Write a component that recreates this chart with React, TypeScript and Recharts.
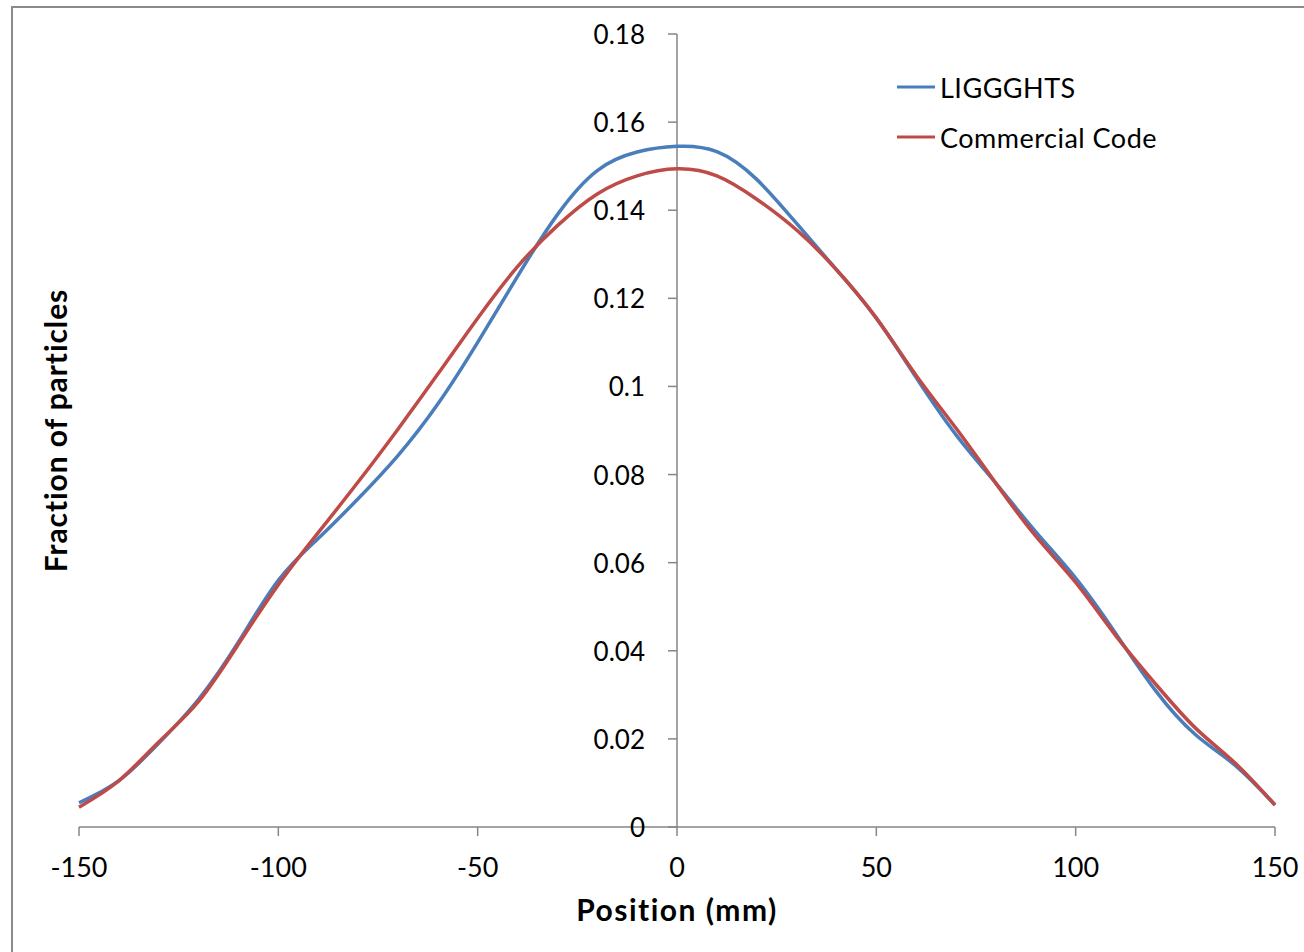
import React from "react";
import { LineChart, Line, XAxis, YAxis, ReferenceLine } from "recharts";

const POSITIONS = [-150, -140, -130, -120, -110, -100, -90, -80, -70, -60, -50, -40, -30, -20, -10, 0, 10, 20, 30, 40, 50, 60, 70, 80, 90, 100, 110, 120, 130, 140, 150];
const LIGGGHTS = [0.0055, 0.0105, 0.019, 0.029, 0.042, 0.056, 0.0655, 0.0745, 0.0843, 0.096, 0.110, 0.125, 0.139, 0.149, 0.1532, 0.1545, 0.1533, 0.147, 0.137, 0.1265, 0.1155, 0.102, 0.089, 0.078, 0.067, 0.0565, 0.044, 0.031, 0.021, 0.014, 0.005];
const COMMERCIAL = [0.0045, 0.0105, 0.0193, 0.0285, 0.0415, 0.055, 0.0668, 0.0783, 0.0903, 0.1028, 0.1155, 0.1272, 0.1365, 0.1437, 0.1478, 0.1494, 0.1478, 0.1425, 0.1355, 0.1265, 0.1155, 0.1025, 0.0905, 0.078, 0.066, 0.0555, 0.0435, 0.0325, 0.0225, 0.0145, 0.005];
const X_TICKS = [-150, -100, -50, 0, 50, 100, 150];
const Y_TICKS = [0, 0.02, 0.04, 0.06, 0.08, 0.1, 0.12, 0.14, 0.16, 0.18];
const SERIES_NAMES = ["LIGGGHTS", "Commercial Code"];

const data = POSITIONS.map((x, i) => ({ x, liggghts: LIGGGHTS[i], commercial: COMMERCIAL[i] }));

const W = 1304;
const H = 952;
const Y_AXIS_W = 1;
const M_LEFT = 78;
const M_RIGHT = 29;
const M_TOP = 34;
const X_AXIS_H = 125;
const PLOT_LEFT = M_LEFT + Y_AXIS_W;
const AXIS_X = PLOT_LEFT + (W - PLOT_LEFT - M_RIGHT) / 2;
const AXIS_COLOR = "#868686";
const BLUE = "#4A7EBB";
const RED = "#BE4B48";
const FONT = "Lato, 'Open Sans', sans-serif";

const YTick = (props: any) => {
  const { y, payload } = props;
  return (
    <g>
      <line x1={AXIS_X - 9} x2={AXIS_X} y1={y} y2={y} stroke={AXIS_COLOR} strokeWidth={1.5} />
      <text x={AXIS_X - 32} y={y} textAnchor="end" dominantBaseline="central" fontFamily={FONT} fontSize={26} fill="#000">
        {String(payload.value)}
      </text>
    </g>
  );
};

const LegendBox = () => (
  <svg width={320} height={100} style={{ position: "absolute", left: 895, top: 62 }}>
    {SERIES_NAMES.map((name, i) => (
      <g key={name}>
        <line x1={2} x2={40} y1={25 + i * 50} y2={25 + i * 50} stroke={i === 0 ? BLUE : RED} strokeWidth={3} />
        <text x={45} y={25 + i * 50} dominantBaseline="central" fontFamily={FONT} fontSize={27} letterSpacing={0.5} fill="#000">
          {name}
        </text>
      </g>
    ))}
  </svg>
);

export default function App() {
  return (
    <div style={{ position: "absolute", left: 0, top: 0, width: W, height: H, background: "#fff", overflow: "hidden" }}>
      <div style={{ position: "absolute", left: 11, top: 6, width: W, height: H, borderLeft: "2px solid #8a8a8a", borderTop: "2px solid #8a8a8a" }} />
      <div style={{ position: "absolute", left: 0, top: 0 }}>
        <LineChart width={W} height={H} data={data} margin={{ top: M_TOP, right: M_RIGHT, left: M_LEFT, bottom: 0 }}>
          <XAxis
            dataKey="x"
            type="number"
            domain={[-150, 150]}
            ticks={X_TICKS}
            height={X_AXIS_H}
            stroke={AXIS_COLOR}
            strokeWidth={1.5}
            tickSize={9}
            tickMargin={22}
            tick={{ fill: "#000", fontSize: 27, fontFamily: FONT }}
            label={{ value: "Position (mm)", position: "insideBottom", offset: 31, style: { fontFamily: FONT, fontSize: 30, fontWeight: 700, letterSpacing: 1.5, fill: "#000" } }}
          />
          <YAxis
            type="number"
            domain={[0, 0.18]}
            ticks={Y_TICKS}
            width={Y_AXIS_W}
            axisLine={false}
            tickLine={false}
            tick={<YTick />}
            label={{ value: "Fraction of particles", angle: -90, position: "insideLeft", offset: -22, style: { textAnchor: "middle", fontFamily: FONT, fontSize: 30, fontWeight: 700, letterSpacing: 0.9, fill: "#000" } }}
          />
          <ReferenceLine x={0} stroke={AXIS_COLOR} strokeWidth={1.5} />
          <Line type="natural" dataKey="liggghts" name="LIGGGHTS" stroke={BLUE} strokeWidth={3.5} dot={false} isAnimationActive={false} />
          <Line type="natural" dataKey="commercial" name="Commercial Code" stroke={RED} strokeWidth={3.5} dot={false} isAnimationActive={false} />
        </LineChart>
      </div>
      <LegendBox />
    </div>
  );
}
